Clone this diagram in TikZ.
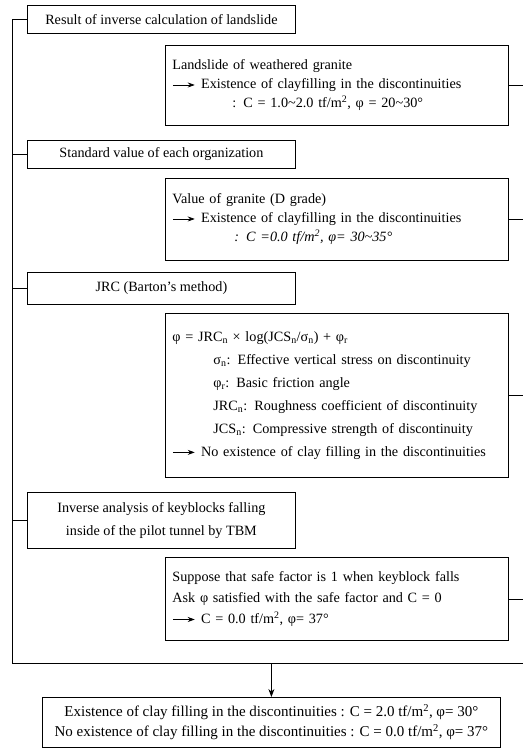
\documentclass[tikz,border=0pt]{standalone}
\usepackage{fontspec}
\setmainfont{Liberation Serif}
\usetikzlibrary{arrows.meta}
\newcommand{\toarr}{\tikz[baseline=-0.6ex]\draw[line width=0.7pt,-{Stealth[length=7pt,width=5pt]}] (0,0) -- (22pt,0);\hspace{6pt}}
\begin{document}
\begin{tikzpicture}[x=1pt,y=1pt,
    lbox/.style={draw,line width=0.8pt,anchor=north west,minimum width=268pt,align=center,inner sep=0pt,font=\fontsize{14.2}{23}\selectfont},
    rbox/.style={draw,line width=0.8pt,anchor=north west,text width=329pt,inner xsep=7pt,inner ysep=0pt,align=left,font=\fontsize{14.2}{19}\selectfont}]
    \useasboundingbox (0,0) rectangle (523,-752);
    \node[lbox,minimum height=28pt] (res) at (27,-5) {Result of inverse calculation of landslide};
    \node[rbox,minimum height=80pt] (land) at (165,-45) {Landslide of weathered granite\\
        \toarr Existence of clayfilling in the discontinuities\\
        \hspace*{60pt}: C = 1.0\textasciitilde 2.0 tf/m\textsuperscript{2}, φ = 20\textasciitilde 30°};
    \node[lbox,minimum height=28pt] (std) at (27,-140) {Standard value of each organization};
    \node[rbox,minimum height=82pt] (gran) at (165,-178) {Value of granite (D grade)\\
        \toarr Existence of clayfilling in the discontinuities\\
        \hspace*{62pt}\textit{: C =0.0 tf/m\textsuperscript{2}, φ= 30\textasciitilde 35°}};
    \node[lbox,minimum height=32pt] (jrc) at (27,-272) {JRC (Barton’s method)};
    \node[rbox,minimum height=164pt,font=\fontsize{14.2}{23}\selectfont] (barton) at (165,-313) {φ = JRC\textsubscript{n} × log(JCS\textsubscript{n}/σ\textsubscript{n}) + φ\textsubscript{r}\\
        \hspace*{41pt}σ\textsubscript{n}: Effective vertical stress on discontinuity\\
        \hspace*{41pt}φ\textsubscript{r}: Basic friction angle\\
        \hspace*{41pt}JRC\textsubscript{n}: Roughness coefficient of discontinuity\\
        \hspace*{41pt}JCS\textsubscript{n}: Compressive strength of discontinuity\\
        \toarr No existence of clay filling in the discontinuities};
    \node[lbox,minimum height=56pt] (inv) at (27,-492) {Inverse analysis of keyblocks falling\\inside of the pilot tunnel by TBM};
    \node[rbox,minimum height=83pt,font=\fontsize{14.2}{21}\selectfont] (safe) at (165,-557) {Suppose that safe factor is 1 when keyblock falls\\
        Ask φ satisfied with the safe factor and C = 0\\
        \toarr C = 0.0 tf/m\textsuperscript{2}, φ= 37°};
    \node[lbox,minimum width=458pt,minimum height=50pt,font=\fontsize{15}{20}\selectfont] (concl) at (42,-697) {Existence of clay filling in the discontinuities : C = 2.0 tf/m\textsuperscript{2}, φ= 30°\\
        No existence of clay filling in the discontinuities : C = 0.0 tf/m\textsuperscript{2}, φ= 37°};
    \coordinate (bot) at (12,-663);
    \coordinate (botr) at (523,-663);
    \draw [line width=0.8pt] (res.west) -| (bot) -- (botr);
    \draw [line width=0.8pt] (std.west) -- (std.west -| bot);
    \draw [line width=0.8pt] (jrc.west) -- (jrc.west -| bot);
    \draw [line width=0.8pt] (inv.west) -- (inv.west -| bot);
    \draw [line width=0.8pt] (land.east) -- (land.east -| botr);
    \draw [line width=0.8pt] (gran.east) -- (gran.east -| botr);
    \draw [line width=0.8pt] (barton.east) -- (barton.east -| botr);
    \draw [line width=0.8pt] (safe.east) -- (safe.east -| botr);
    \draw [line width=0.8pt,-{Stealth[length=8pt,width=6pt]}] (concl.north |- bot) -- (concl.north);
\end{tikzpicture}
\end{document}
